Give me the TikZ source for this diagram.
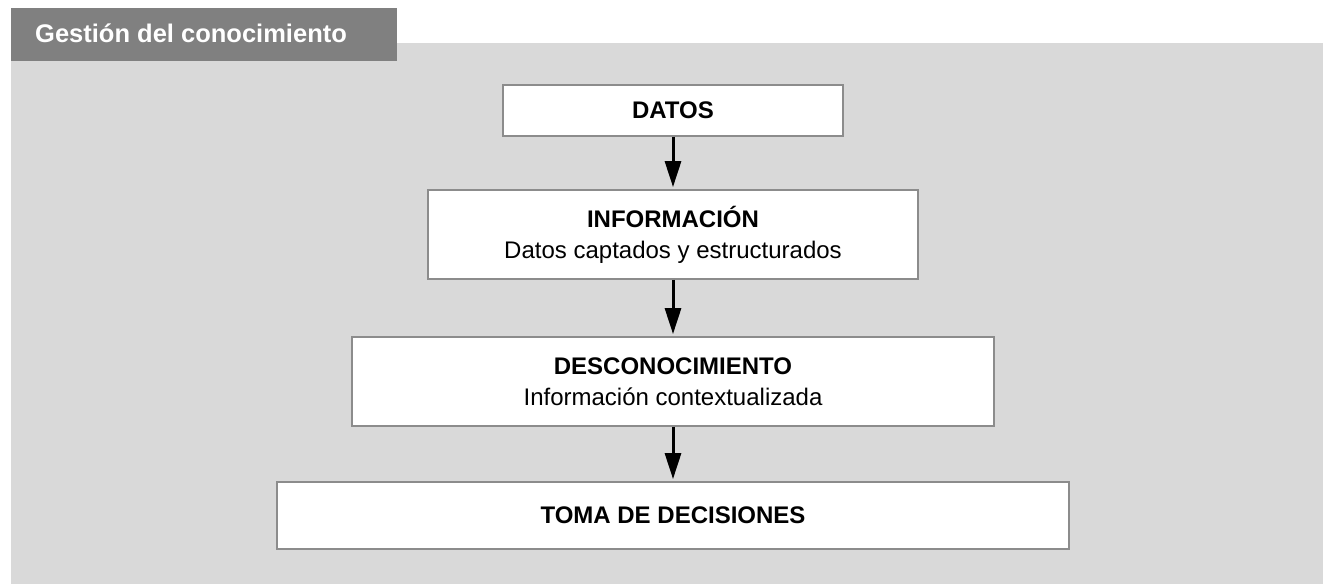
\documentclass[tikz,border=0pt]{standalone}
\usepackage{fontspec}
\setmainfont{Liberation Sans}
\usetikzlibrary{arrows.meta}
\definecolor{bggray}{HTML}{D9D9D9}
\definecolor{tabgray}{HTML}{808080}
\definecolor{boxline}{HTML}{8C8C8C}
\begin{document}
\begin{tikzpicture}[x=1pt,y=-1pt,
  stepbox/.style={draw=boxline,line width=1.8pt,fill=white,inner sep=0pt,align=center,
    font=\fontsize{24}{31}\selectfont},
  arr/.style={line width=3pt,-{Triangle[length=26pt,width=16pt]},shorten >=2pt}]
\useasboundingbox (0,0) rectangle (1323,584);
\fill[bggray] (11,43) rectangle (1323,584);
\node[fill=tabgray,minimum width=386pt,minimum height=53pt,inner sep=0pt,anchor=north west] (tab) at (11,8) {};
\node[anchor=base west,text=white,font=\fontsize{25.5}{28}\selectfont\bfseries,inner sep=0pt] (tabtxt) at (35,42) {Gestión del conocimiento};
\node[stepbox,minimum width=340pt,minimum height=51pt] (datos) at (673,110.5) {\textbf{DATOS}};
\node[stepbox,minimum width=490pt,minimum height=89pt] (info) at (673,234.5) {\textbf{INFORMACIÓN}\\Datos captados y estructurados};
\node[stepbox,minimum width=642pt,minimum height=89pt] (desc) at (673,381.5) {\textbf{DESCONOCIMIENTO}\\Información contextualizada};
\node[stepbox,minimum width=792pt,minimum height=67pt] (toma) at (673,515.5) {\textbf{TOMA DE DECISIONES}};
\draw[arr] (datos.south) -- (info.north);
\draw[arr] (info.south) -- (desc.north);
\draw[arr] (desc.south) -- (toma.north);
\end{tikzpicture}
\end{document}
